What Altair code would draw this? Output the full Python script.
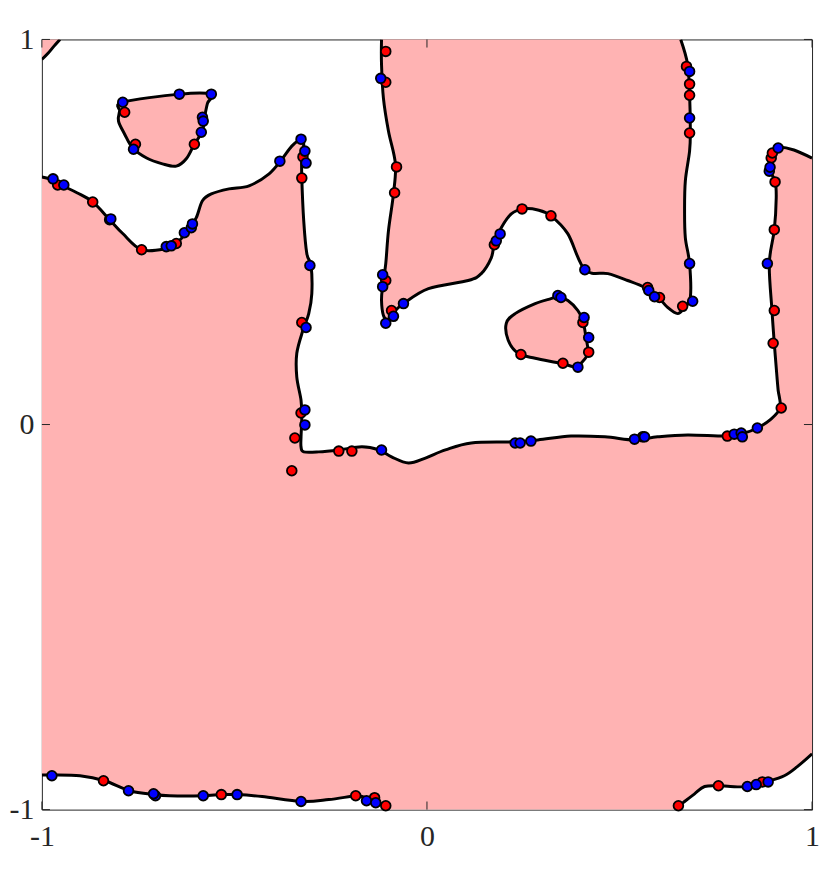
import altair as alt
import pandas as pd

PINK = "#ffb3b3"
TICKS = [-1, 0, 1]
TICK_LABELS = ["-1", "0", "1"]

# ---- boundary curves (data units) ----
TL_CORNER = [(-1.0, 0.948), (-0.984, 0.964), (-0.969, 0.982), (-0.953, 1.0)]

BLOB = [(-0.790, 0.837), (-0.643, 0.858), (-0.560, 0.858), (-0.570, 0.834), (-0.578, 0.795),
        (-0.583, 0.762), (-0.604, 0.728), (-0.625, 0.690), (-0.651, 0.671), (-0.687, 0.677),
        (-0.728, 0.692), (-0.764, 0.718), (-0.785, 0.754), (-0.801, 0.788), (-0.798, 0.814)]

BIG_CURVE = [(-1.0, 0.643), (-0.971, 0.635), (-0.946, 0.620), (-0.909, 0.602), (-0.868, 0.578),
             (-0.824, 0.532), (-0.790, 0.496), (-0.741, 0.454), (-0.677, 0.457), (-0.651, 0.470),
             (-0.617, 0.508), (-0.599, 0.537), (-0.583, 0.581), (-0.560, 0.599), (-0.514, 0.612),
             (-0.462, 0.620), (-0.410, 0.651), (-0.376, 0.690), (-0.351, 0.723), (-0.327, 0.741),
             (-0.320, 0.728), (-0.325, 0.692), (-0.325, 0.640), (-0.320, 0.529), (-0.312, 0.444),
             (-0.301, 0.413), (-0.299, 0.340), (-0.307, 0.288), (-0.322, 0.245), (-0.338, 0.185),
             (-0.338, 0.123), (-0.327, 0.063), (-0.325, 0.019), (-0.327, -0.032), (-0.327, -0.058),
             (-0.320, -0.071), (-0.281, -0.071), (-0.229, -0.066), (-0.169, -0.058), (-0.125, -0.066),
             (-0.092, -0.084), (-0.048, -0.100), (-0.004, -0.087), (0.048, -0.066), (0.115, -0.048),
             (0.219, -0.045), (0.288, -0.040), (0.374, -0.030), (0.462, -0.032), (0.539, -0.040),
             (0.599, -0.032), (0.677, -0.027), (0.780, -0.030), (0.824, -0.022), (0.858, -0.009),
             (0.891, 0.012), (0.917, 0.043), (0.912, 0.089), (0.909, 0.123), (0.902, 0.211),
             (0.896, 0.296), (0.889, 0.418), (0.902, 0.506), (0.907, 0.589), (0.904, 0.633),
             (0.891, 0.658), (0.891, 0.692), (0.902, 0.715), (0.915, 0.721), (0.953, 0.713),
             (1.0, 0.692)]

BR_CURVE = [(1.0, -0.855), (0.961, -0.889), (0.928, -0.912), (0.884, -0.927), (0.832, -0.940),
            (0.788, -0.940), (0.757, -0.938), (0.721, -0.940), (0.695, -0.959), (0.669, -0.979),
            (0.653, -0.992), (0.646, -1.0)]

BL_CURVE = [(-0.100, -1.0), (-0.105, -0.992), (-0.133, -0.979), (-0.169, -0.966), (-0.185, -0.964),
            (-0.255, -0.974), (-0.325, -0.979), (-0.428, -0.966), (-0.493, -0.961), (-0.534, -0.961),
            (-0.583, -0.964), (-0.669, -0.964), (-0.708, -0.961), (-0.772, -0.951), (-0.837, -0.925),
            (-0.901, -0.912), (-0.974, -0.910), (-1.0, -0.910)]

TOP_REGION = [(-0.118, 1.0), (-0.118, 0.935), (-0.113, 0.847), (-0.100, 0.762), (-0.082, 0.677),
              (-0.087, 0.599), (-0.100, 0.503), (-0.107, 0.418), (-0.115, 0.361), (-0.118, 0.322),
              (-0.113, 0.283), (-0.102, 0.273), (-0.087, 0.291), (-0.061, 0.314), (0.004, 0.353),
              (0.107, 0.374), (0.141, 0.392), (0.167, 0.433), (0.175, 0.470), (0.193, 0.511),
              (0.219, 0.547), (0.250, 0.560), (0.288, 0.557), (0.322, 0.542), (0.366, 0.495),
              (0.410, 0.402), (0.470, 0.392), (0.521, 0.374), (0.565, 0.356), (0.599, 0.332),
              (0.625, 0.304), (0.651, 0.288), (0.669, 0.304), (0.684, 0.330), (0.682, 0.418),
              (0.671, 0.485), (0.669, 0.555), (0.671, 0.633), (0.682, 0.710), (0.684, 0.762),
              (0.682, 0.858), (0.677, 0.935), (0.659, 1.0)]

OVAL = [(0.340, 0.332), (0.366, 0.322), (0.392, 0.296), (0.405, 0.270), (0.413, 0.226),
        (0.418, 0.185), (0.400, 0.159), (0.387, 0.149), (0.348, 0.159), (0.281, 0.172),
        (0.237, 0.185), (0.211, 0.219), (0.206, 0.263), (0.229, 0.288), (0.281, 0.314),
        (0.322, 0.327)]

# ---- sample points ----
RED_POINTS = [(-0.785, 0.811), (-0.604, 0.728), (-0.757, 0.728),
              (-0.959, 0.622), (-0.868, 0.578), (-0.741, 0.454), (-0.651, 0.470),
              (-0.322, 0.695), (-0.325, 0.640), (-0.325, 0.265), (-0.327, 0.030),
              (-0.343, -0.035), (-0.351, -0.120), (-0.229, -0.069), (-0.195, -0.069),
              (0.560, -0.032), (0.780, -0.030), (0.920, 0.043), (0.899, 0.211), (0.902, 0.296),
              (0.902, 0.506), (0.904, 0.630), (0.894, 0.692), (0.897, 0.705),
              (-0.107, 0.969), (-0.107, 0.889), (-0.079, 0.669), (-0.084, 0.602), (-0.107, 0.374),
              (-0.092, 0.296), (0.175, 0.467), (0.247, 0.560), (0.322, 0.542), (0.573, 0.356),
              (0.604, 0.330), (0.664, 0.307), (0.674, 0.930), (0.682, 0.884), (0.682, 0.855),
              (0.682, 0.757),
              (0.405, 0.265), (0.420, 0.188), (0.353, 0.159), (0.244, 0.182),
              (-0.840, -0.925), (-0.534, -0.961), (-0.185, -0.964), (-0.136, -0.969), (-0.107, -0.990),
              (0.653, -0.990), (0.757, -0.938), (0.871, -0.928)]

BLUE_POINTS = [(-0.790, 0.837), (-0.643, 0.858), (-0.560, 0.858), (-0.583, 0.798), (-0.581, 0.788),
               (-0.586, 0.759), (-0.762, 0.715),
               (-0.971, 0.638), (-0.943, 0.622), (-0.824, 0.532), (-0.821, 0.534), (-0.677, 0.462),
               (-0.664, 0.464), (-0.630, 0.498), (-0.612, 0.511), (-0.609, 0.521), (-0.382, 0.684),
               (-0.327, 0.741), (-0.317, 0.710), (-0.314, 0.679), (-0.304, 0.413), (-0.314, 0.252),
               (-0.317, 0.038), (-0.317, -0.001), (-0.118, -0.066), (0.229, -0.048), (0.242, -0.048),
               (0.270, -0.043), (0.539, -0.038), (0.565, -0.032), (0.798, -0.025), (0.816, -0.022),
               (0.819, -0.032), (0.858, -0.009), (0.884, 0.418), (0.889, 0.658), (0.891, 0.668),
               (0.912, 0.718),
               (-0.120, 0.899), (-0.115, 0.389), (-0.115, 0.358), (-0.087, 0.281), (-0.107, 0.263),
               (-0.061, 0.314), (0.180, 0.477), (0.190, 0.495), (0.410, 0.402), (0.576, 0.348),
               (0.591, 0.332), (0.690, 0.320), (0.682, 0.418), (0.682, 0.917), (0.682, 0.796),
               (0.340, 0.335), (0.348, 0.330), (0.408, 0.278), (0.420, 0.226), (0.392, 0.149),
               (-0.974, -0.912), (-0.775, -0.951), (-0.705, -0.964), (-0.710, -0.959), (-0.581, -0.964),
               (-0.493, -0.961), (-0.327, -0.979), (-0.157, -0.977), (-0.133, -0.982),
               (0.832, -0.940), (0.855, -0.935), (0.886, -0.928)]

# ---- build tables ----
def rows(name, pts):
    return [{"g": name, "i": k, "x": p[0], "y": p[1]} for k, p in enumerate(pts)]

O = 1.06  # helper coordinate just outside the frame (clipped away)
fill_polys = {
    "tl": TL_CORNER + [(-0.953, O), (-O, O), (-O, 0.948)],
    "blob": BLOB,
    "big": (BIG_CURVE + [(O, 0.692), (O, -0.855)] + BR_CURVE + [(0.646, -O), (-0.100, -O)]
            + BL_CURVE + [(-O, -0.910), (-O, 0.643)]),
    "top": TOP_REGION + [(0.659, O), (-0.118, O)],
    "oval": OVAL,
}
fill_df = pd.DataFrame([r for n, p in fill_polys.items() for r in rows(n, p)])
open_df = pd.DataFrame([r for n, p in {"tl": TL_CORNER, "big": BIG_CURVE, "br": BR_CURVE,
                                        "bl": BL_CURVE, "top": TOP_REGION}.items() for r in rows(n, p)])
closed_df = pd.DataFrame([r for n, p in {"blob": BLOB, "oval": OVAL}.items() for r in rows(n, p)])

pts = [{"x": p[0], "y": p[1], "c": "r"} for p in RED_POINTS] + \
      [{"x": p[0], "y": p[1], "c": "b"} for p in BLUE_POINTS]
pts_df = pd.DataFrame(pts)
pts_df["k"] = range(len(pts_df))

L = 0.021
tick_rows = []
for t in TICKS:
    tick_rows += [{"x": t, "x2": t, "y": -1.0, "y2": -1.0 + L},
                  {"x": t, "x2": t, "y": 1.0, "y2": 1.0 - L},
                  {"x": -1.0, "x2": -1.0 + L, "y": t, "y2": t},
                  {"x": 1.0, "x2": 1.0 - L, "y": t, "y2": t}]
tick_df = pd.DataFrame(tick_rows)

# label expression built from the tick/label lists
label_expr = " : ".join(
    f"abs(datum.value - ({v})) < 0.001 ? '{s}'" for v, s in zip(TICKS, TICK_LABELS)
) + " : ''"
axis_common = dict(values=TICKS, domain=False, ticks=False, grid=False, title=None,
                   labelFont="Liberation Serif", labelFontSize=30, labelColor="#262626",
                   labelFlush=False, labelOverlap=False, labelExpr=label_expr)
xs = alt.Scale(domain=[-1, 1], nice=False, zero=False)
ys = alt.Scale(domain=[-1, 1], nice=False, zero=False)
X = alt.X("x:Q", scale=xs, axis=alt.Axis(labelPadding=12, **axis_common))
Y = alt.Y("y:Q", scale=ys, axis=alt.Axis(labelPadding=8, **axis_common))

fill = alt.Chart(fill_df).mark_line(
    fill=PINK, strokeWidth=0, strokeOpacity=0, interpolate="cardinal-closed", clip=True
).encode(x=X, y=Y, detail="g:N", order="i:Q")

open_lines = alt.Chart(open_df).mark_line(
    color="black", strokeWidth=3, interpolate="cardinal", clip=True, strokeJoin="round"
).encode(x=X, y=Y, detail="g:N", order="i:Q")

closed_lines = alt.Chart(closed_df).mark_line(
    color="black", strokeWidth=3, interpolate="cardinal-closed", clip=True, strokeJoin="round"
).encode(x=X, y=Y, detail="g:N", order="i:Q")

points = alt.Chart(pts_df).mark_circle(
    size=95, stroke="black", strokeWidth=1.8, opacity=1
).encode(
    x=X, y=Y,
    color=alt.Color("c:N", scale=alt.Scale(domain=["r", "b"], range=["#ff0000", "#0000ff"]), legend=None),
    order="k:Q",
)

ticks = alt.Chart(tick_df).mark_rule(color="#262626", strokeWidth=1).encode(
    x=X, y=Y, x2="x2:Q", y2="y2:Q"
)

chart = alt.layer(fill, open_lines, closed_lines, points, ticks).properties(
    width=773, height=773,
    autosize=alt.AutoSizeParams(type="none"),
    padding={"left": 34, "top": 30, "right": 10, "bottom": 47},
    background="white",
).configure_view(stroke="#262626", strokeWidth=1)

chart.save("out.html", embed_options={"renderer": "svg", "actions": False})
